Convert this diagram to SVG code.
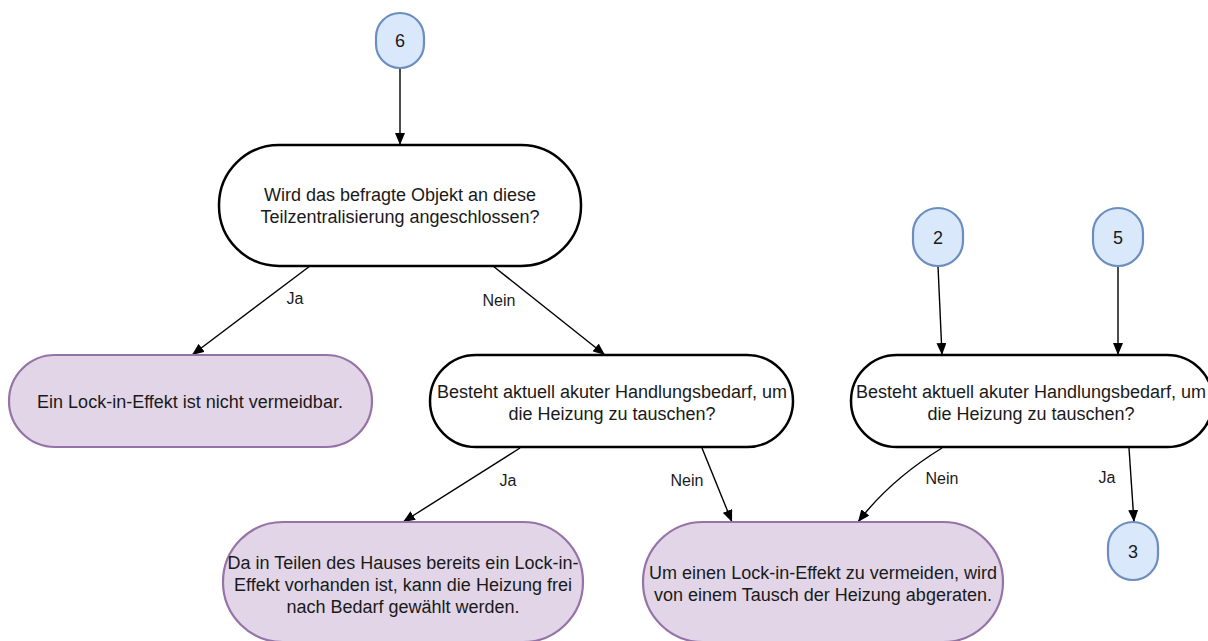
<svg xmlns="http://www.w3.org/2000/svg" width="1208" height="641" viewBox="0 0 1208 641">
  <style>
    .q { fill: #ffffff; stroke: #000000; stroke-width: 2.5; }
    .r { fill: #e1d5e7; stroke: #9673a6; stroke-width: 2.2; }
    .c { fill: #dae8fc; stroke: #6c8ebf; stroke-width: 2.2; }
    .t { font-family: "Liberation Sans", Arial, sans-serif; font-size: 18px; fill: #1a1a1a; text-anchor: middle; }
    .lbl { font-family: "Liberation Sans", Arial, sans-serif; font-size: 16px; fill: #1a1a1a; text-anchor: middle; }
    .e { fill: none; stroke: #000000; stroke-width: 1.4; marker-end: url(#arr); }
  </style>
  <defs>
    <marker id="arr" viewBox="0 0 12 10" refX="12" refY="5" markerWidth="12" markerHeight="10" markerUnits="userSpaceOnUse" orient="auto">
      <path d="M0,0 L12,5 L0,10 Z" fill="#000000"/>
    </marker>
  </defs>
  <rect width="1208" height="641" fill="#ffffff"/>

  <g id="connectors">
    <path class="e" d="M400,68 L400,145"/>
    <path class="e" d="M310,266 L192,355"/>
    <path class="e" d="M493,266 L605,355"/>
    <path class="e" d="M520,448 L403,522"/>
    <path class="e" d="M702,448 L732,522"/>
    <path class="e" d="M938,266 L942,355"/>
    <path class="e" d="M1118,266 L1118,355"/>
    <path class="e" d="M942,448 Q890,480 858,522"/>
    <path class="e" d="M1129,448 L1134,522"/>
    <text class="lbl" x="295" y="304">Ja</text>
    <text class="lbl" x="499" y="306">Nein</text>
    <text class="lbl" x="508" y="486">Ja</text>
    <text class="lbl" x="687" y="486">Nein</text>
    <text class="lbl" x="942" y="484">Nein</text>
    <text class="lbl" x="1107" y="483">Ja</text>
  </g>

  <g id="n6">
    <rect class="c" x="376" y="13" width="48" height="55" rx="24" ry="24"/>
    <text class="t" x="400" y="47">6</text>
  </g>

  <g id="q-anschluss">
    <rect class="q" x="219" y="145" width="362" height="121" rx="60" ry="60"/>
    <text class="t" x="400" y="201">Wird das befragte Objekt an diese</text>
    <text class="t" x="400" y="223">Teilzentralisierung angeschlossen?</text>
  </g>

  <g id="r-lockin">
    <rect class="r" x="9" y="355" width="363" height="92" rx="46" ry="46"/>
    <text class="t" x="190" y="408">Ein Lock-in-Effekt ist nicht vermeidbar.</text>
  </g>

  <g id="q-bedarf-a">
    <rect class="q" x="430" y="355" width="363" height="92" rx="46" ry="46"/>
    <text class="t" x="612" y="398">Besteht aktuell akuter Handlungsbedarf, um</text>
    <text class="t" x="612" y="420">die Heizung zu tauschen?</text>
  </g>

  <g id="n2">
    <rect class="c" x="913" y="208" width="50" height="58" rx="25" ry="25"/>
    <text class="t" x="938" y="244">2</text>
  </g>

  <g id="n5">
    <rect class="c" x="1093" y="208" width="50" height="58" rx="25" ry="25"/>
    <text class="t" x="1118" y="244">5</text>
  </g>

  <g id="q-bedarf-b">
    <rect class="q" x="851" y="355" width="362" height="92" rx="46" ry="46"/>
    <text class="t" x="1031" y="398">Besteht aktuell akuter Handlungsbedarf, um</text>
    <text class="t" x="1031" y="420">die Heizung zu tauschen?</text>
  </g>

  <g id="r-frei">
    <rect class="r" x="223" y="522" width="360" height="120" rx="60" ry="60"/>
    <text class="t" x="403" y="569">Da in Teilen des Hauses bereits ein Lock-in-</text>
    <text class="t" x="403" y="591">Effekt vorhanden ist, kann die Heizung frei</text>
    <text class="t" x="403" y="613">nach Bedarf gewählt werden.</text>
  </g>

  <g id="r-abraten">
    <rect class="r" x="643" y="522" width="360" height="120" rx="60" ry="60"/>
    <text class="t" x="823" y="579">Um einen Lock-in-Effekt zu vermeiden, wird</text>
    <text class="t" x="823" y="601">von einem Tausch der Heizung abgeraten.</text>
  </g>

  <g id="n3">
    <rect class="c" x="1108" y="522" width="50" height="58" rx="25" ry="25"/>
    <text class="t" x="1133" y="558">3</text>
  </g>
</svg>
